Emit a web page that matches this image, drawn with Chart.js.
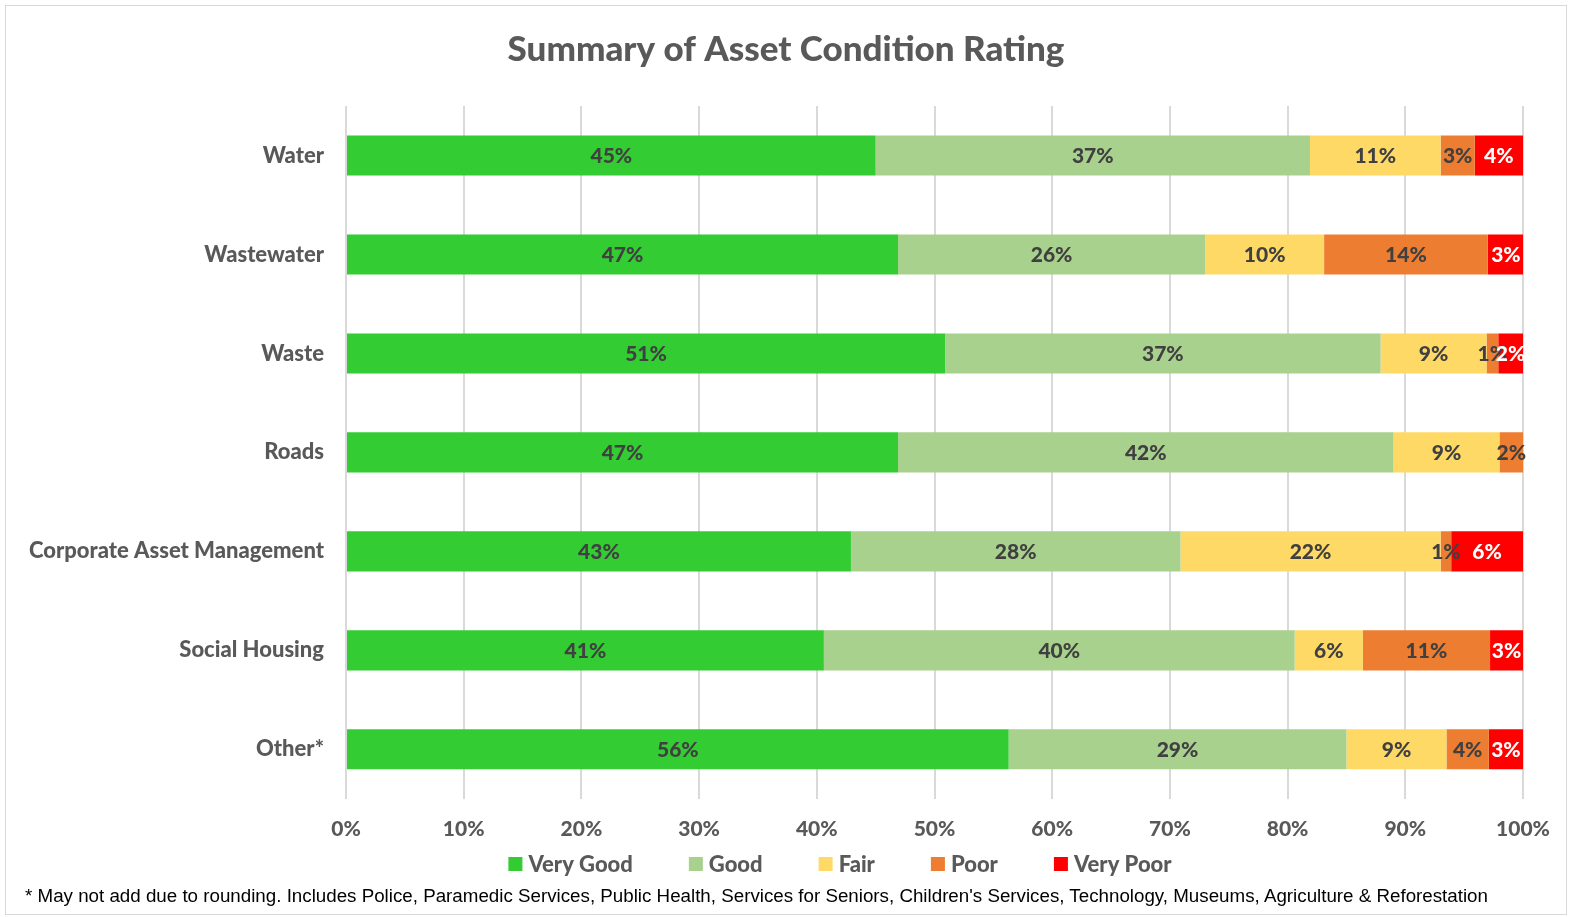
<!DOCTYPE html>
<html>
<head>
<meta charset="utf-8">
<script src="https://cdn.jsdelivr.net/npm/chart.js@4"></script>
<style>
  html, body { margin: 0; padding: 0; background: #fff; }
  #wrap { position: relative; width: 1572px; height: 917px; }
  #frame { position: absolute; left: 5px; top: 5px; width: 1562px; height: 910px; border: 1px solid #d9d9d9; box-sizing: border-box; }
  #myChart--bar { position: absolute; left: 0; top: 0; }
  #note { position: absolute; left: 25px; top: 885px; font-family: "Liberation Sans", Arial, sans-serif; font-size: 18.75px; color: #000; white-space: nowrap; }
</style>
</head>
<body>
<div id="wrap">
  <div id="frame"></div>
  <canvas id="myChart--bar" width="1572" height="917"></canvas>
  <div id="note">* May not add due to rounding. Includes Police, Paramedic Services, Public Health, Services for Seniors, Children's Services, Technology, Museums, Agriculture &amp; Reforestation</div>
</div>
<script>
// categories and ratings
var categories = ["Water", "Wastewater", "Waste", "Roads", "Corporate Asset Management", "Social Housing", "Other*"];
var ratings = ["Very Good", "Good", "Fair", "Poor", "Very Poor"];

// percentages per rating, one value per category
var veryGood = [45.0, 46.9, 50.9, 46.9, 42.9, 40.6, 56.3];
var good     = [36.9, 26.1, 37.0, 42.1, 28.0, 40.0, 28.7];
var fair     = [11.1, 10.1, 9.0, 9.0, 22.1, 5.8, 8.5];
var poor     = [2.9, 13.9, 1.0, 2.0, 0.9, 10.8, 3.6];
var veryPoor = [4.1, 3.1, 2.1, 0, 6.1, 2.8, 2.9];

var tickValues = [0, 10, 20, 30, 40, 50, 60, 70, 80, 90, 100];

var colours = ["#33CC33", "#A9D18E", "#FFD966", "#ED7D31", "#FF0000"];
var series = [veryGood, good, fair, poor, veryPoor];

var FONT = "Lato, 'Open Sans', sans-serif";

// percent labels in the middle of each segment
var segLabels = {
    id: 'segLabels',
    afterDatasetsDraw: function(chart) {
        var ctx = chart.ctx;
        ctx.save();
        ctx.font = "900 21px " + FONT;
        ctx.textAlign = "center";
        ctx.textBaseline = "middle";
        chart.data.datasets.forEach(function(ds, i) {
            var meta = chart.getDatasetMeta(i);
            meta.data.forEach(function(bar, j) {
                var v = ds.data[j];
                if (!v) return;
                ctx.fillStyle = i === 4 ? "#ffffff" : "#404040";
                ctx.fillText(Math.round(v) + "%", (bar.x + bar.base) / 2, bar.y + 1);
            });
        });
        ctx.restore();
    }
};

// legend row under the axis, built from the datasets
var bottomLegend = {
    id: 'bottomLegend',
    afterDraw: function(chart) {
        var ctx = chart.ctx;
        var box = 14, gapText = 6, gapItem = 56, y = 864, centre = 840;
        ctx.save();
        ctx.font = "900 22px " + FONT;
        ctx.textBaseline = "middle";
        var items = chart.data.datasets.map(function(ds) {
            return { text: ds.label, colour: ds.backgroundColor, w: ctx.measureText(ds.label).width };
        });
        var total = 0;
        items.forEach(function(it, i) { total += box + gapText + it.w + (i ? gapItem : 0); });
        var x = centre - total / 2;
        items.forEach(function(it) {
            ctx.fillStyle = it.colour;
            ctx.fillRect(x, y - box / 2, box, box);
            ctx.fillStyle = "#595959";
            ctx.fillText(it.text, x + box + gapText, y + 1);
            x += box + gapText + it.w + gapItem;
        });
        ctx.restore();
    }
};

var ctx = document.getElementById("myChart--bar").getContext('2d');

var data = {
    labels: categories,
    datasets: ratings.map(function(name, i) {
        return {
            label: name,
            data: series[i],
            backgroundColor: colours[i],
            borderWidth: 0,
            barPercentage: 0.405,
            categoryPercentage: 1.0
        };
    })
};

var myBarChart = new Chart(ctx, {
    type: 'bar',
    data: data,
    plugins: [segLabels, bottomLegend],
    options: {
        indexAxis: 'y',
        responsive: false,
        animation: false,
        layout: { padding: { left: 0, right: 0, top: 0, bottom: 57 } },
        scales: {
            x: {
                stacked: true,
                min: 0,
                max: 100,
                afterBuildTicks: function(scale) {
                    scale.ticks = tickValues.map(function(v) { return { value: v }; });
                },
                grid: { color: "#d9d9d9", lineWidth: 2, drawTicks: false },
                border: { display: false },
                ticks: {
                    padding: 18,
                    color: "#595959",
                    font: { family: FONT, size: 21, weight: 900 },
                    callback: function(v) { return v + "%"; }
                }
            },
            y: {
                stacked: true,
                grid: { display: false, drawTicks: false },
                border: { display: false },
                afterFit: function(scale) { scale.width = 346; },
                ticks: {
                    padding: 22,
                    color: "#595959",
                    font: { family: FONT, size: 22, weight: 900 }
                }
            },
            // empty strip on the right, keeps the plot where the original has it
            yRight: {
                position: 'right',
                grid: { display: false, drawTicks: false },
                border: { display: false },
                ticks: { display: false },
                afterFit: function(scale) { scale.width = 49; }
            }
        },
        plugins: {
            title: {
                display: true,
                text: "Summary of Asset Condition Rating",
                color: "#595959",
                font: { family: FONT, size: 35, weight: 900 },
                padding: { top: 29, bottom: 35 }
            },
            legend: { display: false },
            tooltip: { enabled: false }
        }
    }
});
</script>
</body>
</html>
